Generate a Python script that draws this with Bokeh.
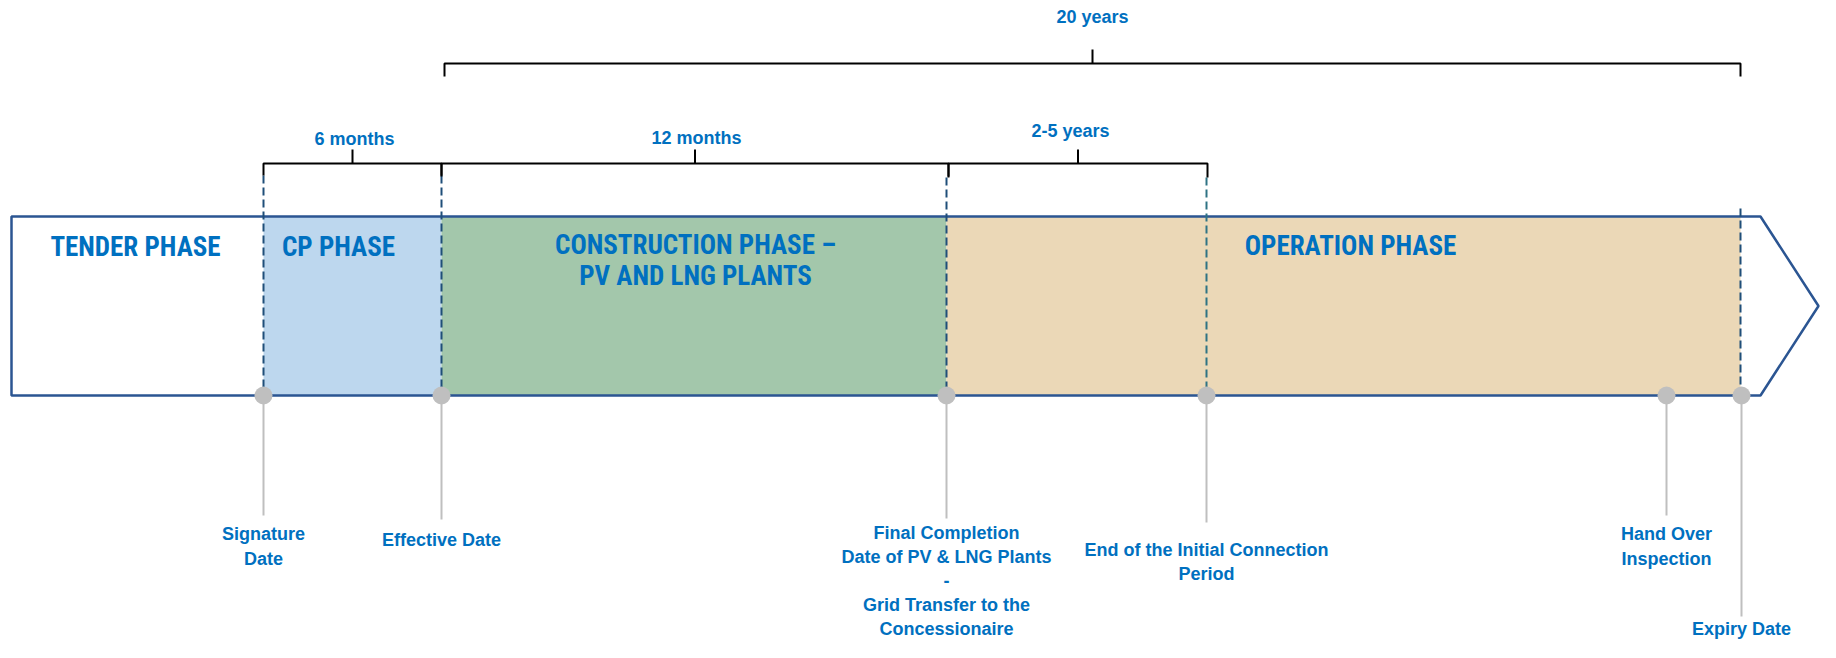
from bokeh.plotting import figure
from bokeh.models import Range1d
from bokeh.core.properties import value
from bokeh.embed import file_html
from bokeh.resources import INLINE

# ---------------- data ----------------
milestone_labels = [
    "Signature\nDate",
    "Effective Date",
    "Final Completion\nDate of PV & LNG Plants\n-\nGrid Transfer to the\nConcessionaire",
    "End of the Initial Connection\nPeriod",
    "Hand Over\nInspection",
    "Expiry Date",
]
milestone_x = [263, 441, 946, 1206, 1666, 1741]

phase_names = ["TENDER PHASE", "CP PHASE", "CONSTRUCTION PHASE –\nPV AND LNG PLANTS", "OPERATION PHASE"]
phase_start = [11, 263, 441, 946]
phase_end = [263, 441, 946, 1740]

bracket_labels = ["6 months", "12 months", "2-5 years", "20 years"]
bracket_start = [263, 441, 948, 444]
bracket_end = [441, 948, 1207, 1740]

# ---------------- layout / style ----------------
BLUE = "#0070C0"
NAVY = "#2B5592"
GREY = "#BFBFBF"
phase_fill = ["#FFFFFF", "#BDD7EE", "#A3C7AB", "#EBD8B7"]
phase_title_x = [135, 338, 695, 1350]
phase_title_y = [246, 246, 260, 245]

box_top, box_bottom = 216, 395
arrow_body_end, arrow_tip = 1760, 1818

stem_end = [515, 519, 518, 522, 515, 616]
label_y = [546, 539, 580, 561.5, 546, 628]
label_line_height = [1.22, 1.22, 1.2, 1.22, 1.22, 1.22]
dash_top = [175, 175, 177, 177, 208, 208]
dash_color = ["#1F4E79", "#1F4E79", "#1F4E79", "#2E7384", "#1F4E79", "#1F4E79"]

bracket_y = [163, 163, 163, 63]
bracket_drop = [12, 13, 14, 13]
bracket_label_x = [354, 696, 1070, 1092]
bracket_label_y = [138, 137, 130, 16]

W, H = 1820, 642
p = figure(width=W, height=H, x_range=Range1d(0, W), y_range=Range1d(H, 0),
           output_backend="svg", toolbar_location=None, min_border=0,
           background_fill_color="white", border_fill_color="white")
p.axis.visible = False
p.grid.visible = False
p.outline_line_color = None

# arrow shaped band
left = phase_start[0]
mid_y = (box_top + box_bottom) / 2
ax = [left, arrow_body_end, arrow_tip, arrow_body_end, left]
ay = [box_top, box_top, mid_y, box_bottom, box_bottom]
p.patch(ax, ay, fill_color="white", line_color=None)
p.quad(left=phase_start[1:], right=phase_end[1:], top=box_top, bottom=box_bottom,
       fill_color=phase_fill[1:], line_color=None)
p.patch(ax, ay, fill_color=None, line_color=NAVY, line_width=2.5)

# dashed milestone lines (none for hand over)
dx = [x for i, x in enumerate(milestone_x) if i != 4]
dt = [t for i, t in enumerate(dash_top) if i != 4]
dc = [c for i, c in enumerate(dash_color) if i != 4]
dx[-1] = phase_end[-1]
p.segment(x0=dx, y0=dt, x1=dx, y1=[box_bottom] * len(dx), line_color=dc,
          line_width=2, line_dash="8 4")

# stems and milestone dots
p.segment(x0=milestone_x, y0=[box_bottom] * 6, x1=milestone_x, y1=stem_end,
          line_color=GREY, line_width=2)
p.scatter(x=milestone_x, y=[box_bottom] * 6, size=18, fill_color=GREY, line_color=None)

# duration brackets
xs, ys, tx0, ty0, ty1 = [], [], [], [], []
for s, e, y, d in zip(bracket_start, bracket_end, bracket_y, bracket_drop):
    xs.append([s, s, e, e])
    ys.append([y + d, y, y, y + d])
    tx0.append((s + e) / 2)
    ty0.append(y)
    ty1.append(y - 14)
p.multi_line(xs, ys, line_color="black", line_width=2)
p.segment(x0=tx0, y0=ty0, x1=tx0, y1=ty1, line_color="black", line_width=2)
p.text(x=bracket_label_x, y=bracket_label_y, text=bracket_labels,
       text_font=value("Liberation Sans"), text_font_style="bold", text_font_size="18px",
       text_color=BLUE, text_align="center", text_baseline="middle")

# phase titles
p.text(x=phase_title_x, y=phase_title_y, text=phase_names,
       text_font=value("Roboto Condensed"), text_font_style="bold", text_font_size="27px",
       text_color=BLUE, text_align="center", text_baseline="middle", text_line_height=0.96)

# milestone labels
for x, y, t, lh in zip(milestone_x, label_y, milestone_labels, label_line_height):
    p.text(x=[x], y=[y], text=[t],
           text_font=value("Liberation Sans"), text_font_style="bold", text_font_size="18px",
           text_color=BLUE, text_align="center", text_baseline="middle", text_line_height=lh)

open("out.html", "w").write(file_html(p, INLINE))
